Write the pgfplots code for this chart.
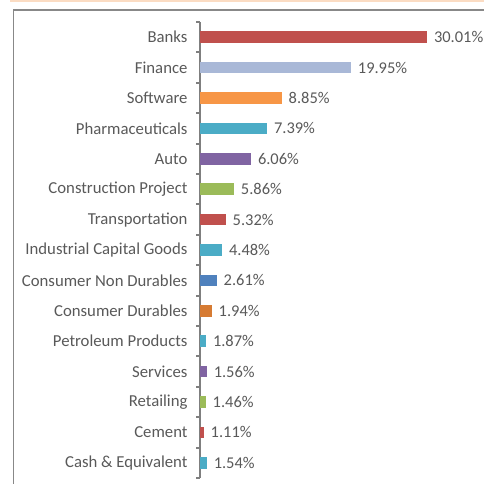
\documentclass[border=0pt]{standalone}
\usepackage{fontspec}
\setmainfont{Carlito}
\usepackage{pgfplots}
\pgfplotsset{compat=1.18}
\definecolor{txt}{HTML}{595959}
\definecolor{axgray}{HTML}{7F7F7F}
\definecolor{framegray}{HTML}{888888}
\definecolor{peach}{HTML}{FBDCC3}
\definecolor{cRed}{HTML}{C0504D}
\definecolor{cFin}{HTML}{A9B8D7}
\definecolor{cOrange}{HTML}{F79646}
\definecolor{cTeal}{HTML}{4BACC6}
\definecolor{cPurple}{HTML}{8064A2}
\definecolor{cGreen}{HTML}{9BBB59}
\definecolor{cBlue}{HTML}{4F81BD}
\definecolor{cDOrange}{HTML}{D67B33}
\begin{document}
\begin{tikzpicture}[x=1bp,y=1bp]
\path[use as bounding box] (0,0) rectangle (484,484);
\draw[peach, line width=2bp] (10,483) -- (484,483);
\draw[framegray, line width=1.5bp] (13.5,0) -- (13.5,474) -- (484,474);
\begin{axis}[
  at={(200bp,6bp)}, anchor=south west,
  scale only axis, width=272.3bp, height=456bp,
  xmin=0, xmax=36, ymin=-0.5, ymax=14.5,
  y dir=reverse,
  axis x line=none, axis y line*=left,
  y axis line style={axgray, line width=2bp},
  xbar, bar width=11.5bp, bar shift=0pt,
  clip=false,
  ytick={0,...,14},
  yticklabels={Banks,Finance,Software,Pharmaceuticals,Auto,Construction Project,Transportation,Industrial Capital Goods,Consumer Non Durables,Consumer Durables,Petroleum Products,Services,Retailing,Cement,Cash \& Equivalent},
  major tick length=0pt,
  extra y ticks={-0.5,0.5,...,14.5},
  extra y tick labels={},
  extra y tick style={major tick length=4bp, tick align=outside, tick style={axgray, line width=2bp}},
  yticklabel style={font=\fontsize{16.8}{19}\selectfont, text=txt, xshift=-9bp},
  /pgf/number format/assume math mode=true,
  point meta=explicit,
  nodes near coords={\pgfmathprintnumber[fixed,precision=2,fixed zerofill]{\pgfplotspointmeta}\%},
  nodes near coords style={font=\fontsize{16.5}{19}\selectfont, text=txt, anchor=west, xshift=3.5bp},
]
\addplot[fill=cRed, draw=none] coordinates {(30.01,0) [30.01]};
\addplot[fill=cFin, draw=none] coordinates {(19.95,1) [19.95]};
\addplot[fill=cOrange, draw=none] coordinates {(10.8,2) [8.85]};
\addplot[fill=cTeal, draw=none] coordinates {(8.86,3) [7.39]};
\addplot[fill=cPurple, draw=none] coordinates {(6.74,4) [6.06]};
\addplot[fill=cGreen, draw=none] coordinates {(4.49,5) [5.86]};
\addplot[fill=cRed, draw=none] coordinates {(3.40,6) [5.32]};
\addplot[fill=cTeal, draw=none] coordinates {(2.91,7) [4.48]};
\addplot[fill=cBlue, draw=none] coordinates {(2.21,8) [2.61]};
\addplot[fill=cDOrange, draw=none] coordinates {(1.55,9) [1.94]};
\addplot[fill=cTeal, draw=none] coordinates {(0.79,10) [1.87]};
\addplot[fill=cPurple, draw=none] coordinates {(0.89,11) [1.56]};
\addplot[fill=cGreen, draw=none] coordinates {(0.75,12) [1.46]};
\addplot[fill=cRed, draw=none] coordinates {(0.49,13) [1.11]};
\addplot[fill=cTeal, draw=none] coordinates {(0.89,14) [1.54]};
\end{axis}
\end{tikzpicture}
\end{document}
